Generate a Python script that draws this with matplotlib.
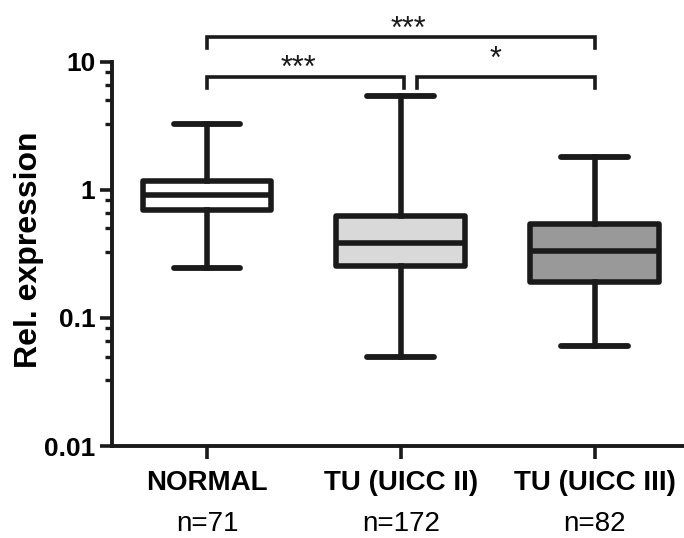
import matplotlib
matplotlib.use('Agg')
import matplotlib.pyplot as plt
from matplotlib.ticker import FixedLocator, NullFormatter, FixedFormatter

plt.rcParams['font.family'] = ['Liberation Sans', 'DejaVu Sans']

# box summary values
groups = ['NORMAL', 'TU (UICC II)', 'TU (UICC III)']
n_labels = ['n=71', 'n=172', 'n=82']
whisker_low = [0.245, 0.050, 0.060]
q1 = [0.70, 0.255, 0.19]
median = [0.91, 0.385, 0.334]
q3 = [1.18, 0.625, 0.545]
whisker_high = [3.25, 5.45, 1.80]
fills = ['#ffffff', '#d9d9d9', '#999999']

# significance brackets: x start, x end, bar height, label
brackets = [
    (1.0, 2.015, 7.6, '***'),
    (2.085, 3.0, 7.6, '*'),
    (1.0, 3.0, 15.7, '***'),
]
star_x = [1.47, 2.49, 2.04]
star_lift = [0, 7, -1]  # points above bar

yticks = [0.01, 0.1, 1, 10]
ytick_labels = ['0.01', '0.1', '1', '10']
minor_factors = [0.83, 0.66, 0.5, 0.33]

ink = '#1a1a1a'
positions = [1, 2, 3]

fig = plt.figure(figsize=(6.84, 5.38), dpi=100)
ax = fig.add_axes([0.1637, 0.171, 0.8363, 0.7139])

stats = []
for i, g in enumerate(groups):
    stats.append(dict(label=g, med=median[i], q1=q1[i], q3=q3[i],
                      whislo=whisker_low[i], whishi=whisker_high[i], fliers=[]))

bp = ax.bxp(stats, positions=positions, widths=0.665, capwidths=0.345,
            patch_artist=True, showfliers=False,
            boxprops=dict(linewidth=4.0, edgecolor=ink, joinstyle='round'),
            medianprops=dict(linewidth=4.0, color=ink, solid_capstyle='butt'),
            whiskerprops=dict(linewidth=4.0, color=ink),
            capprops=dict(linewidth=4.2, color=ink, solid_capstyle='round'))
for patch, c in zip(bp['boxes'], fills):
    patch.set_facecolor(c)

ax.set_yscale('log')
ax.set_ylim(0.01, 10)
ax.set_xlim(0.51, 3.46)

ax.yaxis.set_major_locator(FixedLocator(yticks))
ax.yaxis.set_major_formatter(FixedFormatter(ytick_labels))
minor = [f * d for d in (10, 1, 0.1) for f in minor_factors]
ax.yaxis.set_minor_locator(FixedLocator(minor))
ax.yaxis.set_minor_formatter(NullFormatter())

ax.set_xticks(positions)
ax.set_xticklabels(groups, fontsize=20, fontweight='bold')

for side in ('top', 'right'):
    ax.spines[side].set_visible(False)
for side in ('left', 'bottom'):
    ax.spines[side].set_linewidth(2.8)
    ax.spines[side].set_color(ink)

ax.tick_params(axis='y', which='major', length=9, width=2.6, color=ink,
               labelsize=19, pad=3)
ax.tick_params(axis='y', which='minor', length=5, width=2.4, color=ink)
ax.tick_params(axis='x', which='major', length=9, width=2.6, color=ink, pad=8)
for lab in ax.get_yticklabels():
    lab.set_fontweight('bold')

ax.set_ylabel('Rel. expression', fontsize=23, fontweight='bold')
ax.yaxis.set_label_coords(-0.119, 0.51)

for x, lab in zip(positions, n_labels):
    ax.text(x, -0.17, lab, transform=ax.get_xaxis_transform(),
            ha='center', va='top', fontsize=20)

leg = 0.82
for (x0, x1, y, lab), sx, lift in zip(brackets, star_x, star_lift):
    ax.plot([x0, x0, x1, x1], [y * leg, y, y, y * leg], color=ink,
            linewidth=2.6, clip_on=False, solid_joinstyle='miter')
    ax.annotate(lab, (sx, y), xytext=(0, lift), textcoords='offset points',
                ha='center', va='baseline', fontsize=22, color=ink,
                annotation_clip=False)

fig.savefig('out.png', dpi=100)
